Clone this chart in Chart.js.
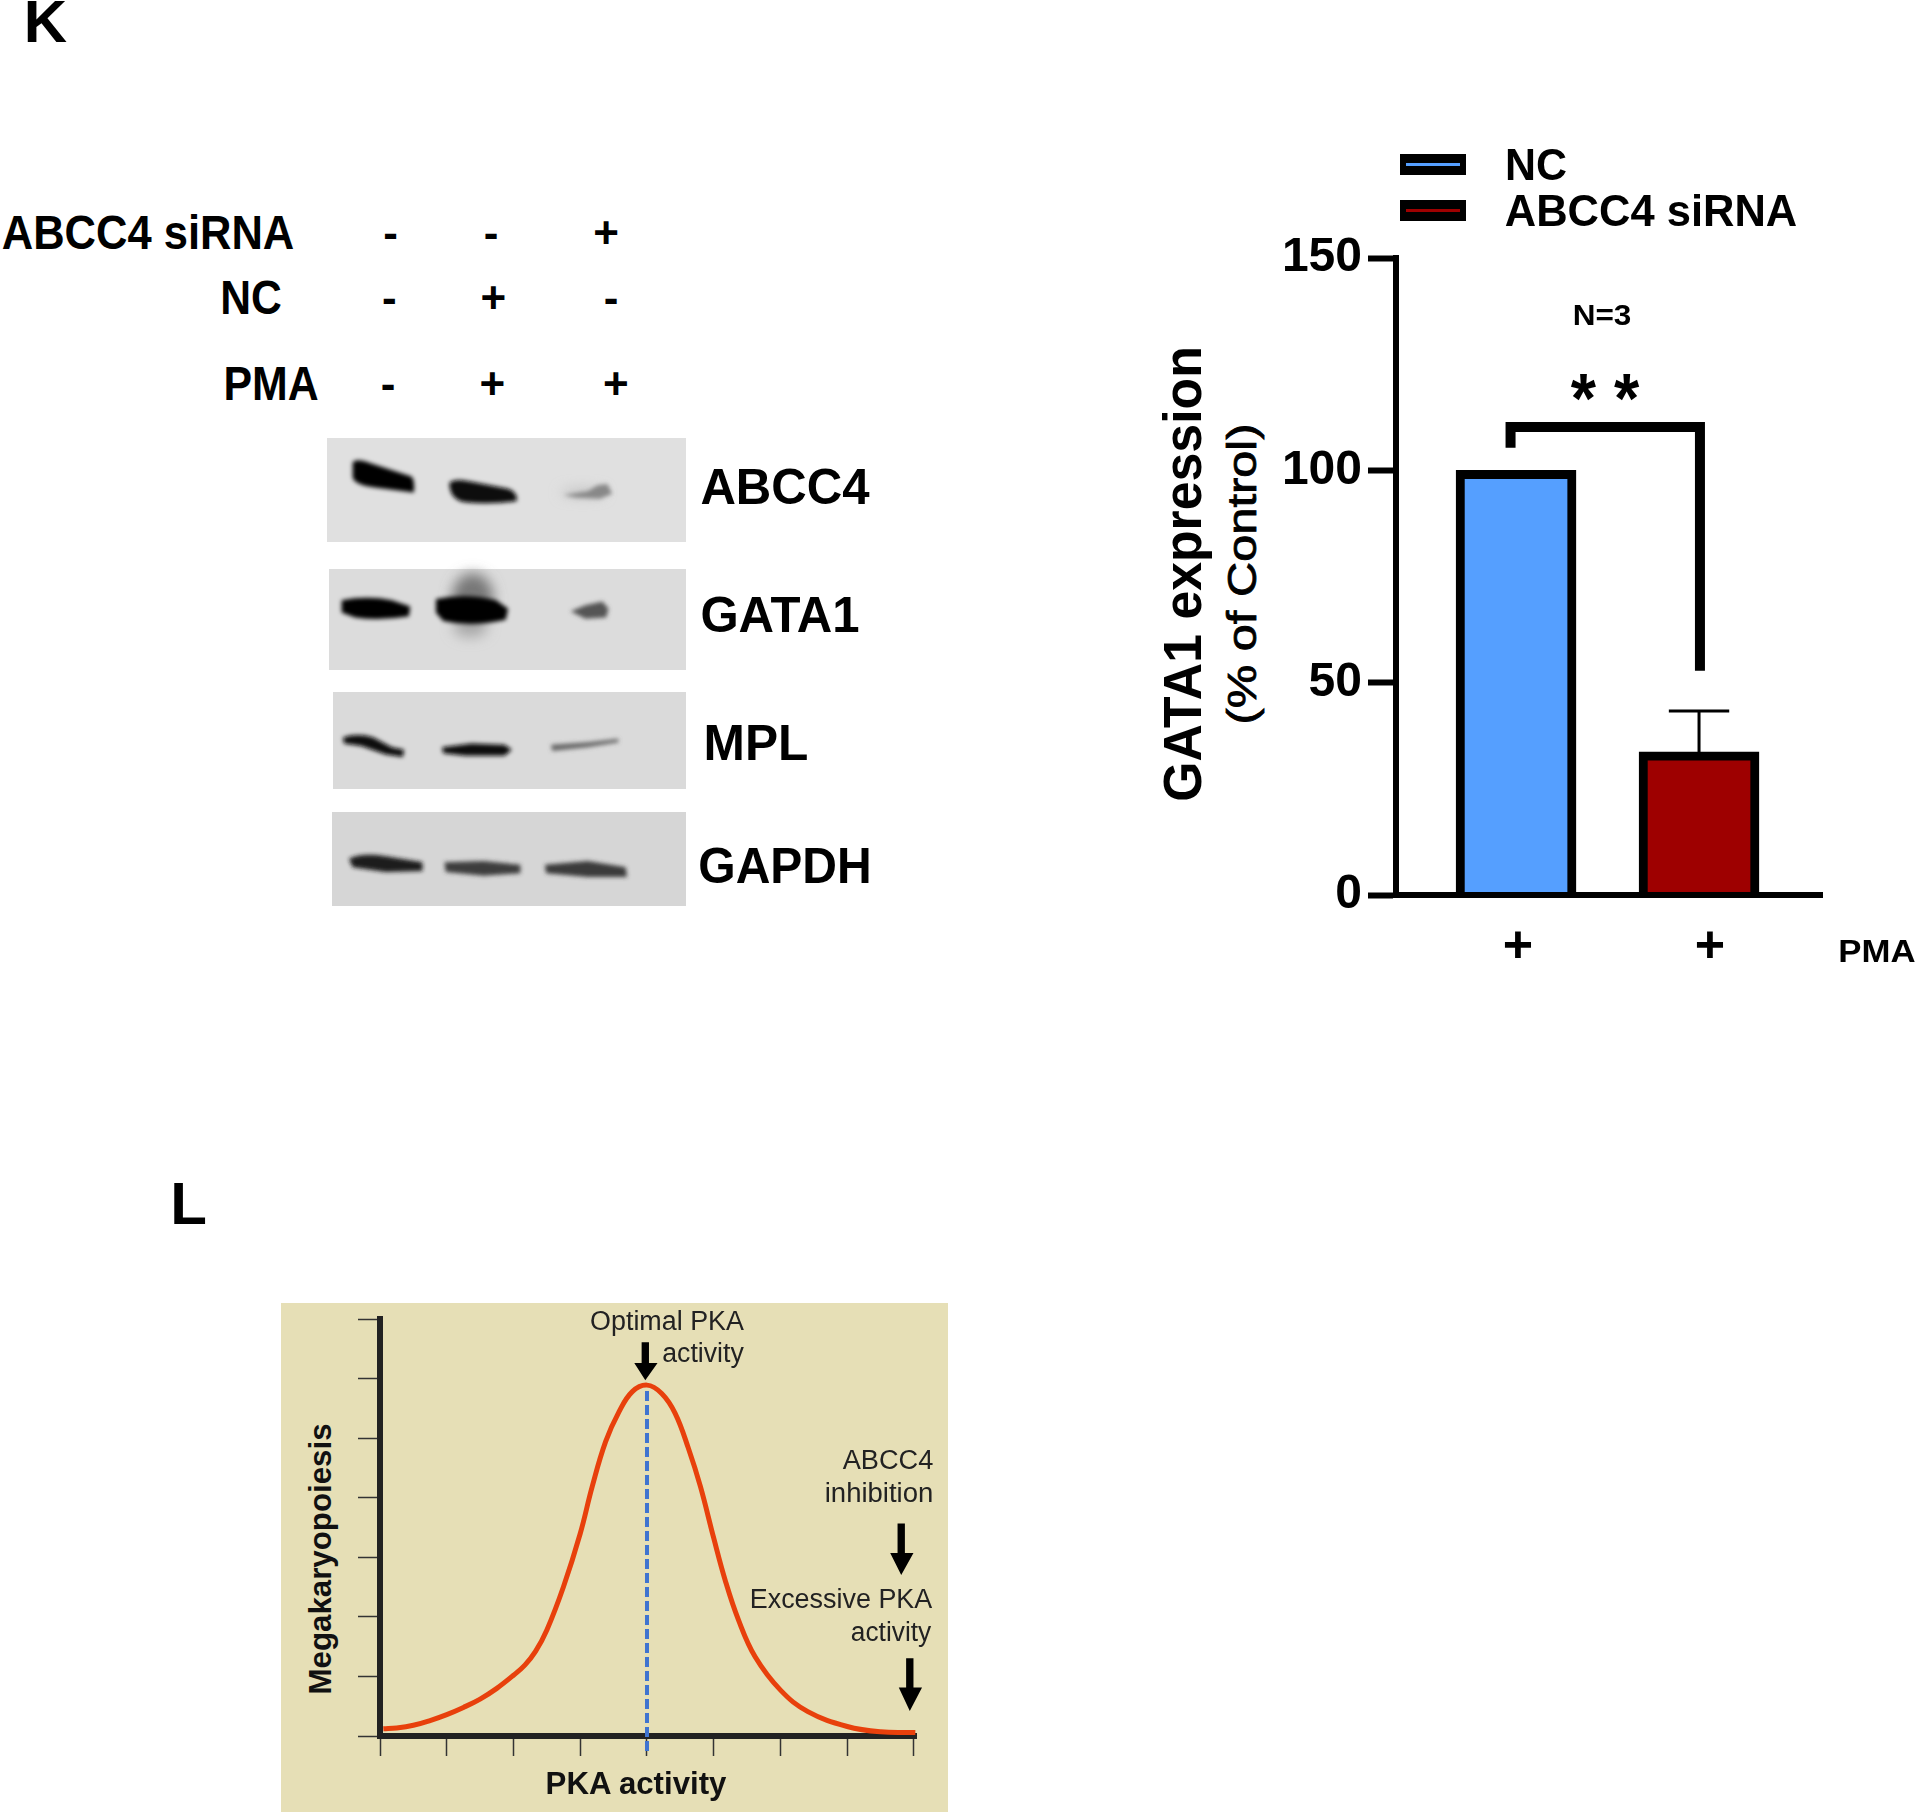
<!DOCTYPE html>
<html>
<head>
<meta charset="utf-8">
<title>GATA1 expression and PKA activity</title>
<script src="https://cdn.jsdelivr.net/npm/chart.js@4/dist/chart.umd.min.js"></script>
<style>
    html, body { margin: 0; padding: 0; background: #fff; }
    #page { position: relative; width: 1920px; height: 1814px; overflow: hidden; font-family: "Liberation Sans", Arial, sans-serif; color: #000; }
    #page canvas { position: absolute; }
    #page svg { position: absolute; left: 0; top: 0; }
    .txt { position: absolute; white-space: pre; line-height: 1; }
    .box { position: absolute; }
</style>
</head>
<body>
<div id="page">
    <div class="box" style="left:281px;top:1303px;width:667px;height:509px;background:#e6dfb6"></div>
    <div class="box" style="left:327px;top:438px;width:359px;height:104px;background:#e0e0e0"></div>
    <div class="box" style="left:329px;top:569px;width:357px;height:101px;background:#dcdcdc"></div>
    <div class="box" style="left:333px;top:692px;width:353px;height:97px;background:#dadada"></div>
    <div class="box" style="left:332px;top:812px;width:354px;height:94px;background:#d6d6d6"></div>

    <svg width="1920" height="1814" viewBox="0 0 1568 1481">
        <defs>
            <filter id="soft"><feGaussianBlur stdDeviation="1.6"/></filter>
            <filter id="smear"><feGaussianBlur stdDeviation="5"/></filter>
        </defs>
        <!-- western blot smears go under the bands -->
        <g filter="url(#smear)">
            <ellipse cx="386" cy="488" rx="17" ry="20" fill="#777"/>
            <ellipse cx="384" cy="512" rx="14" ry="8" fill="#a8a8a8"/>
            <ellipse cx="476" cy="402" rx="18" ry="3" fill="#bbb"/>
        </g>
        <g filter="url(#soft)">
            <path d="M288 377 Q292 374 302 378 L336 389 Q339 392 338 402 L306 398 Q290 396 288 390 Z" fill="#050505"/>
            <path d="M367 394 Q372 390 384 393 L415 399 Q423 402 422 409 Q400 412 380 410 Q367 408 367 394 Z" fill="#0a0a0a"/>
            <path d="M460 404 L480 401 L488 396 L496 395 L500 403 L490 407 L470 406 Z" fill="#888"/>
            <path d="M279 490 Q300 486 320 490 L335 495 L334 503 Q310 507 290 504 L279 500 Z" fill="#050505"/>
            <path d="M356 489 Q380 484 405 490 L415 497 L413 506 Q385 512 362 507 L356 500 Z" fill="#000"/>
            <path d="M466 499 L478 494 L492 491 L497 497 L495 504 L478 505 Z" fill="#555"/>
            <path d="M280 602 Q292 598 305 602 L320 610 L330 612 L329 618 L315 616 L295 609 L281 607 Z" fill="#0a0a0a"/>
            <path d="M361 610 L385 607 L412 608 L418 612 L412 617 L380 617 L362 615 Z" fill="#111"/>
            <path d="M450 608 L480 606 L505 603 L505 606 L480 610 L451 613 Z" fill="#666"/>
            <path d="M285 701 Q295 696 315 699 L345 704 L345 711 L315 712 L288 708 Z" fill="#1a1a1a"/>
            <path d="M363 704 L395 703 L425 706 L425 713 L395 715 L364 712 Z" fill="#3c3c3c"/>
            <path d="M445 706 L480 703 L511 708 L512 716 L480 716 L446 713 Z" fill="#3a3a3a"/>
        </g>
        <!-- arrows on the bell panel -->
        <g fill="#000">
            <path d="M524 1096 H530 V1113 H537 L527 1127 L518 1113 H524 Z"/>
            <path d="M733 1244 H739 V1268 H746 L736 1286 L727 1268 H733 Z"/>
            <path d="M740 1354 H746 V1378 H753 L743 1397 L734 1378 H740 Z"/>
        </g>
    </svg>

    <canvas id="barChart"></canvas>
    <canvas id="bellChart"></canvas>
</div>

<script>
// bar panel
const groups = ["NC", "ABCC4 siRNA"];
const barPositions = [1, 2];
const gataValues = [100, 33.7];
const gataErrors = [0, 9.6];
const gataTicks = [0, 50, 100, 150];
const pmaLabels = ["+", "+"];
const pmaTickPositions = [1.01, 2.06];
const bracketX = [0.97, 0.97, 2.005, 2.005];
const bracketY = [105.3, 110.2, 110.2, 52.8];
const errorCapHalf = 0.165;

// bell panel
const pkaX = [0.05, 0.25, 0.5, 0.75, 1, 1.25, 1.5, 1.75, 2, 2.17, 2.33, 2.5, 2.75, 3, 3.18, 3.38, 3.58, 3.78, 4, 4.22, 4.42, 4.62, 4.8, 5, 5.17, 5.37, 5.62, 6, 6.41, 7, 7.5, 8.02];
const megaY = [0.12, 0.135, 0.18, 0.26, 0.36, 0.48, 0.62, 0.8, 1.02, 1.19, 1.42, 1.78, 2.51, 3.4, 4.19, 4.94, 5.44, 5.78, 5.89, 5.75, 5.42, 4.83, 4.19, 3.32, 2.62, 1.95, 1.33, 0.77, 0.41, 0.16, 0.07, 0.06];
const optimalX = [4, 4];
const optimalY = [-0.25, 5.89];

// blot header
const blotRows = ["ABCC4 siRNA", "NC", "PMA"];
const blotSigns = [["-", "-", "+"], ["-", "+", "-"], ["-", "+", "+"]];
const blotProteins = ["ABCC4", "GATA1", "MPL", "GAPDH"];

const barColors = ["#559fff", "#9e0000"];
const S = 1920 / 1568;
const page = document.getElementById("page");

// text helper, coordinates are in the shrunk picture units, w is the wanted width
function txt(text, cx, cy, w, size, weight, rot, color) {
    const el = document.createElement("div");
    el.className = "txt";
    el.textContent = text;
    el.style.fontSize = size + "px";
    el.style.fontWeight = weight || "normal";
    if (color) el.style.color = color;
    page.appendChild(el);
    const k = w ? (w * S) / el.offsetWidth : 1;
    el.style.left = (cx * S) + "px";
    el.style.top = (cy * S) + "px";
    el.style.transform = "translate(-50%,-50%) rotate(" + (rot || 0) + "deg) scaleX(" + k + ")";
    return el;
}

// panel letters
txt("K", 37, 18, 0, 60, "bold");
txt("L", 154, 983, 0, 60, "bold");

// blot labels
txt(blotRows[0], 121, 190, 239, 48, "bold");
txt(blotRows[1], 205, 243, 50, 48, "bold");
txt(blotRows[2], 221, 314, 78, 48, "bold");
const signX = [[319, 401, 495], [318, 403, 499], [317, 402, 503]];
const signY = [190, 243, 314];
blotSigns.forEach(function (row, r) {
    row.forEach(function (s, c) {
        txt(s, signX[r][c], signY[r], 0, 44, "bold");
    });
});
txt(blotProteins[0], 641, 398, 138, 50, "bold");
txt(blotProteins[1], 637, 502, 130, 50, "bold");
txt(blotProteins[2], 617, 607, 86, 50, "bold");
txt(blotProteins[3], 641, 707, 142, 50, "bold");

// bar panel texts
txt("GATA1 expression", 965, 469, 372, 54, "bold", -90);
txt("(% of Control)", 1014, 469, 246, 40, "", -90).style.webkitTextStroke = "0.8px #000";
txt("N=3", 1308, 257, 48, 30, "bold");
txt("* *", 1311, 326, 56, 70, "bold");
txt("PMA", 1533, 777, 63, 32, "bold");

// legend
[135, 172].forEach(function (y, i) {
    const sw = document.createElement("div");
    sw.className = "box";
    sw.style.cssText = "left:" + (1143 * S) + "px;top:" + ((y - 9) * S) + "px;width:66px;height:21px;box-sizing:border-box;border:9px solid #000;border-left-width:6px;border-right-width:6px;background:" + barColors[i];
    page.appendChild(sw);
});
txt(groups[0], 1254, 135, 51, 44, "bold");
txt(groups[1], 1348, 172, 239, 44, "bold");

// bell panel texts
txt("Megakaryopoiesis", 261, 1273, 221, 32, "bold", -90, "#111");
txt("PKA activity", 519, 1456, 148, 32, "bold", "", "#111");
txt("Optimal PKA", 545, 1079, 126, 27, "", "", "#222");
txt("activity", 574, 1105, 67, 27, "", "", "#222");
txt("ABCC4", 725, 1192, 74, 27, "", "", "#222");
txt("inhibition", 718, 1219, 89, 27, "", "", "#222");
txt("Excessive PKA", 687, 1306, 149, 27, "", "", "#222");
txt("activity", 728, 1333, 66, 27, "", "", "#222");

function place(id, left, top, width, height) {
    const c = document.getElementById(id);
    c.width = width;
    c.height = height;
    c.style.left = left + "px";
    c.style.top = top + "px";
    c.style.width = width + "px";
    c.style.height = height + "px";
    return c;
}

const errorPath = [];
barPositions.forEach(function (x, i) {
    if (gataErrors[i] > 0) {
        const top = gataValues[i] + gataErrors[i];
        errorPath.push({ x: x, y: gataValues[i] }, { x: x, y: top }, { x: x - errorCapHalf, y: top }, { x: x + errorCapHalf, y: top });
    }
});

new Chart(place("barChart", 1270, 200, 590, 790), {
    data: {
        datasets: [
            {
                type: "bar",
                data: barPositions.map(function (x, i) { return { x: x, y: gataValues[i] }; }),
                backgroundColor: barColors,
                borderColor: "#000",
                borderWidth: 9,
                borderSkipped: "bottom",
                barThickness: 120
            },
            {
                type: "line",
                data: errorPath,
                borderColor: "#000",
                borderWidth: 3,
                pointRadius: 0,
                clip: false
            },
            {
                type: "line",
                data: bracketX.map(function (x, i) { return { x: x, y: bracketY[i] }; }),
                borderColor: "#000",
                borderWidth: 10,
                borderJoinStyle: "miter",
                pointRadius: 0,
                clip: false
            }
        ]
    },
    options: {
        responsive: false,
        animation: false,
        layout: { padding: { top: 58, right: 38, left: 0, bottom: 0 } },
        plugins: { legend: { display: false }, tooltip: { enabled: false } },
        scales: {
            x: {
                type: "linear",
                offset: false,
                min: 0.344,
                max: 2.672,
                grid: { drawOnChartArea: false, drawTicks: false, offset: false },
                border: { color: "#000", width: 6, z: 1 },
                afterFit: function (s) { s.height = 95; },
                afterBuildTicks: function (s) { s.ticks = pmaTickPositions.map(function (v) { return { value: v }; }); },
                afterTickToLabelConversion: function (s) { s.ticks.forEach(function (t, i) { t.label = pmaLabels[i]; }); },
                ticks: { color: "#000", padding: 21, maxRotation: 0, font: { family: "Liberation Sans", size: 52, weight: "bold" } }
            },
            y: {
                min: 0,
                max: 150,
                grid: { drawOnChartArea: false, color: "#000", tickColor: "#000", tickWidth: 6, tickLength: 28 },
                border: { color: "#000", width: 6, z: 1 },
                afterFit: function (s) { s.width = 126; },
                afterBuildTicks: function (s) { s.ticks = gataTicks.map(function (v) { return { value: v }; }); },
                ticks: { color: "#000", padding: 6, font: { family: "Liberation Sans", size: 48, weight: "bold" } }
            }
        }
    }
});

new Chart(place("bellChart", 338, 1300, 622, 480), {
    data: {
        datasets: [
            {
                type: "line",
                data: pkaX.map(function (x, i) { return { x: x, y: megaY[i] }; }),
                borderColor: "#e8400c",
                borderWidth: 5,
                tension: 0.4,
                pointRadius: 0,
                clip: false
            },
            {
                type: "line",
                data: optimalX.map(function (x, i) { return { x: x, y: optimalY[i] }; }),
                borderColor: "#3f74d0",
                borderWidth: 4,
                borderDash: [10, 4],
                pointRadius: 0,
                clip: false
            }
        ]
    },
    options: {
        responsive: false,
        animation: false,
        layout: { padding: { top: 19, right: 44, left: 0, bottom: 0 } },
        plugins: { legend: { display: false }, tooltip: { enabled: false } },
        scales: {
            x: {
                type: "linear",
                min: 0,
                max: 8.03,
                afterFit: function (s) { s.height = 44; },
                grid: { drawOnChartArea: false, tickColor: "#333", tickWidth: 1.5, tickLength: 20 },
                border: { color: "#222", width: 6 },
                afterBuildTicks: function (s) { s.ticks = [0, 1, 2, 3, 4, 5, 6, 7, 8].map(function (v) { return { value: v }; }); },
                ticks: { display: false }
            },
            y: {
                min: 0,
                max: 7,
                afterFit: function (s) { s.width = 42; },
                grid: { drawOnChartArea: false, tickColor: "#333", tickWidth: 1.5, tickLength: 22 },
                border: { color: "#222", width: 6 },
                ticks: { display: false, stepSize: 1 }
            }
        }
    }
});
</script>
</body>
</html>
